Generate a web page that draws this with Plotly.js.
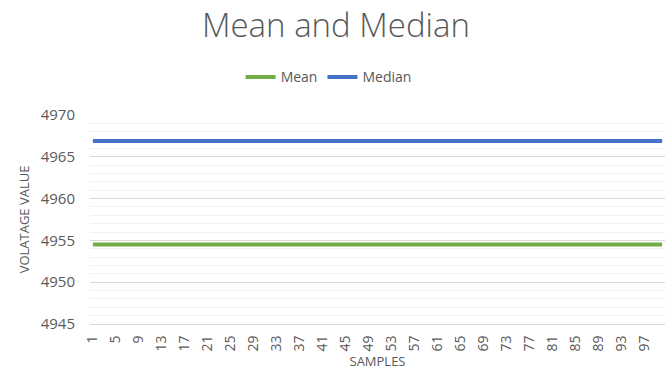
<!DOCTYPE html>
<html>
<head>
<meta charset="utf-8">
<script src="https://cdn.plot.ly/plotly-3.0.1.min.js"></script>
<style>html,body{margin:0;padding:0;background:#fff}#chart{width:672px;height:379px}</style>
</head>
<body>
<div id="chart"></div>
<script>
const samples = [1,2,3,4,5,6,7,8,9,10,11,12,13,14,15,16,17,18,19,20,21,22,23,24,25,26,27,28,29,30,31,32,33,34,35,36,37,38,39,40,41,42,43,44,45,46,47,48,49,50,51,52,53,54,55,56,57,58,59,60,61,62,63,64,65,66,67,68,69,70,71,72,73,74,75,76,77,78,79,80,81,82,83,84,85,86,87,88,89,90,91,92,93,94,95,96,97,98,99,100];
const meanValues = [4954.5,4954.5,4954.5,4954.5,4954.5,4954.5,4954.5,4954.5,4954.5,4954.5,4954.5,4954.5,4954.5,4954.5,4954.5,4954.5,4954.5,4954.5,4954.5,4954.5,4954.5,4954.5,4954.5,4954.5,4954.5,4954.5,4954.5,4954.5,4954.5,4954.5,4954.5,4954.5,4954.5,4954.5,4954.5,4954.5,4954.5,4954.5,4954.5,4954.5,4954.5,4954.5,4954.5,4954.5,4954.5,4954.5,4954.5,4954.5,4954.5,4954.5,4954.5,4954.5,4954.5,4954.5,4954.5,4954.5,4954.5,4954.5,4954.5,4954.5,4954.5,4954.5,4954.5,4954.5,4954.5,4954.5,4954.5,4954.5,4954.5,4954.5,4954.5,4954.5,4954.5,4954.5,4954.5,4954.5,4954.5,4954.5,4954.5,4954.5,4954.5,4954.5,4954.5,4954.5,4954.5,4954.5,4954.5,4954.5,4954.5,4954.5,4954.5,4954.5,4954.5,4954.5,4954.5,4954.5,4954.5,4954.5,4954.5,4954.5];
const medianValues = [4966.9,4966.9,4966.9,4966.9,4966.9,4966.9,4966.9,4966.9,4966.9,4966.9,4966.9,4966.9,4966.9,4966.9,4966.9,4966.9,4966.9,4966.9,4966.9,4966.9,4966.9,4966.9,4966.9,4966.9,4966.9,4966.9,4966.9,4966.9,4966.9,4966.9,4966.9,4966.9,4966.9,4966.9,4966.9,4966.9,4966.9,4966.9,4966.9,4966.9,4966.9,4966.9,4966.9,4966.9,4966.9,4966.9,4966.9,4966.9,4966.9,4966.9,4966.9,4966.9,4966.9,4966.9,4966.9,4966.9,4966.9,4966.9,4966.9,4966.9,4966.9,4966.9,4966.9,4966.9,4966.9,4966.9,4966.9,4966.9,4966.9,4966.9,4966.9,4966.9,4966.9,4966.9,4966.9,4966.9,4966.9,4966.9,4966.9,4966.9,4966.9,4966.9,4966.9,4966.9,4966.9,4966.9,4966.9,4966.9,4966.9,4966.9,4966.9,4966.9,4966.9,4966.9,4966.9,4966.9,4966.9,4966.9,4966.9,4966.9];
const xTickValues = [1,5,9,13,17,21,25,29,33,37,41,45,49,53,57,61,65,69,73,77,81,85,89,93,97];
const xTickLabels = ["1","5","9","13","17","21","25","29","33","37","41","45","49","53","57","61","65","69","73","77","81","85","89","93","97"];
const yTickValues = [4945,4950,4955,4960,4965,4970];
const seriesNames = ["Mean","Median"];
const seriesColors = ["#70AD47","#4472C4"];

const textColor = "#595959";
const fontFamily = "'Open Sans', 'Liberation Sans', sans-serif";

const traces = [
  {x: samples, y: meanValues, name: seriesNames[0], type: "scatter", mode: "lines",
   line: {color: seriesColors[0], width: 4}},
  {x: samples, y: medianValues, name: seriesNames[1], type: "scatter", mode: "lines",
   line: {color: seriesColors[1], width: 4}}
];

const layout = {
  width: 672, height: 379,
  margin: {l: 90, r: 7, t: 115, b: 55},
  paper_bgcolor: "#fff", plot_bgcolor: "#fff",
  font: {family: fontFamily, color: textColor},
  title: {text: "Mean and Median", font: {size: 33, color: textColor, family: fontFamily, weight: 300},
          x: 0.5, xref: "container", xanchor: "center", y: 0.934, yref: "container", yanchor: "middle"},
  showlegend: true,
  legend: {orientation: "h", x: 0.415, xanchor: "center", y: 1.18, yanchor: "middle",
           font: {size: 14, color: textColor}, bgcolor: "rgba(0,0,0,0)", traceorder: "normal"},
  xaxis: {
    range: [0.5, 100.5], tickmode: "array", tickvals: xTickValues, ticktext: xTickLabels,
    tickangle: -90, tickfont: {size: 14, color: textColor}, showgrid: false, zeroline: false,
    showline: true, linecolor: "#d9d9d9", linewidth: 1, ticks: "", ticklabelstandoff: 5,
    title: {text: "SAMPLES", font: {size: 13, color: textColor}, standoff: 5},
    fixedrange: true
  },
  yaxis: {
    range: [4945, 4970], tickmode: "array", tickvals: yTickValues,
    tickfont: {size: 15, color: textColor}, showgrid: true, gridcolor: "#d9d9d9", gridwidth: 1,
    zeroline: false, showline: false, ticks: "", ticklabelstandoff: 14,
    minor: {dtick: 1, showgrid: true, gridcolor: "#f0f0f0", gridwidth: 1, ticks: ""},
    title: {text: "VOLATAGE VALUE", font: {size: 13, color: textColor}, standoff: 8},
    fixedrange: true
  }
};

Plotly.newPlot("chart", traces, layout, {displayModeBar: false, staticPlot: true});
</script>
</body>
</html>
